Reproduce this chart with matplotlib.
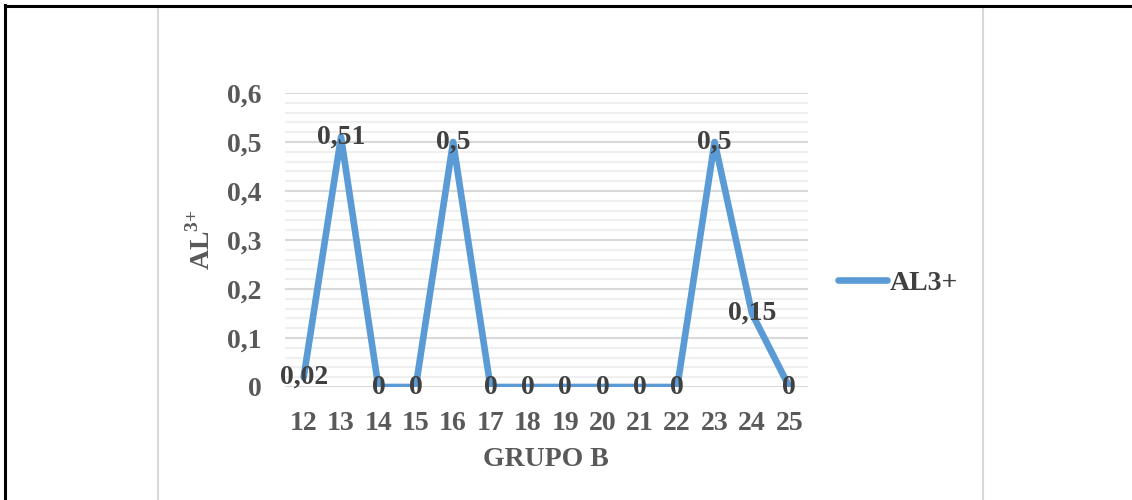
import matplotlib
matplotlib.use('Agg')
import matplotlib.pyplot as plt
from matplotlib.lines import Line2D
from matplotlib.patches import Rectangle
from matplotlib.ticker import MultipleLocator

# dados do gráfico
grupos = ['12', '13', '14', '15', '16', '17', '18', '19', '20', '21', '22', '23', '24', '25']
al3 = [0.02, 0.51, 0, 0, 0.5, 0, 0, 0, 0, 0, 0, 0.5, 0.15, 0]
rotulos = ['0,02', '0,51', '0', '0', '0,5', '0', '0', '0', '0', '0', '0', '0,5', '0,15', '0']
y_ticks = [0, 0.1, 0.2, 0.3, 0.4, 0.5, 0.6]
y_labels = ['0', '0,1', '0,2', '0,3', '0,4', '0,5', '0,6']

plt.rcParams['font.family'] = ['Liberation Serif', 'DejaVu Serif']
plt.rcParams['font.weight'] = 'bold'
plt.rcParams['mathtext.fontset'] = 'custom'
plt.rcParams['mathtext.rm'] = 'Liberation Serif:bold'
plt.rcParams['mathtext.bf'] = 'Liberation Serif:bold'

W, H = 1132, 500
fs = 20
fig = plt.figure(figsize=(W / 100, H / 100), dpi=100)

# bordas da tabela e caixa do gráfico
fig.add_artist(Rectangle((158 / W, -0.01), (983 - 158) / W, 1 - 7 / H + 0.01,
                         transform=fig.transFigure, fill=False,
                         edgecolor='#d9d9d9', lw=1.5))
fig.add_artist(Line2D([5 / W, 1], [1 - 5.5 / H, 1 - 5.5 / H], transform=fig.transFigure,
                      color='black', lw=2.2))
fig.add_artist(Line2D([5 / W, 5 / W], [0, 1 - 5 / H], transform=fig.transFigure,
                      color='black', lw=2.2))

ax = fig.add_axes([285 / W, 1 - 387 / H, (808 - 285) / W, (387 - 93) / H])
x = list(range(len(grupos)))
ax.plot(x, al3, color='#5b9bd5', lw=4.8, solid_capstyle='round', solid_joinstyle='round',
        label='AL3+', zorder=3)

for xi, yi, txt in zip(x, al3, rotulos):
    ax.text(xi, yi, txt, ha='center', va='center', fontsize=fs, fontweight='bold',
            color='#404040', zorder=5, clip_on=False)

ax.set_xlim(-0.5, len(grupos) - 0.5)
ax.set_ylim(0, 0.6)
ax.set_yticks(y_ticks)
ax.set_yticklabels(y_labels)
ax.yaxis.set_minor_locator(MultipleLocator(0.02))
ax.set_xticks(x)
ax.set_xticklabels(grupos)
ax.tick_params(axis='both', which='both', length=0, labelsize=fs, labelcolor='#595959')
ax.tick_params(axis='y', pad=17)
ax.tick_params(axis='x', pad=17)
ax.grid(axis='y', which='minor', color='#efefef', lw=1.5, zorder=0)
ax.grid(axis='y', which='major', color='#d9d9d9', lw=1.5, zorder=1)
ax.set_axisbelow(True)
for s in ax.spines.values():
    s.set_visible(False)

fig.text(546 / W, 1 - 460 / H, 'GRUPO B', ha='center', va='center', fontsize=fs,
         fontweight='bold', color='#595959')
fig.text(201 / W, 1 - 240 / H, r'$\mathrm{AL}^{3{+}}$', ha='center', va='center',
         rotation=90, fontsize=fs, color='#595959')

fig.legend(loc='center left', bbox_to_anchor=(813 / W, 1 - 283 / H), frameon=False,
           fontsize=fs, handlelength=1.75, handletextpad=0.1, labelcolor='#404040')

fig.savefig('out.png', dpi=100)
